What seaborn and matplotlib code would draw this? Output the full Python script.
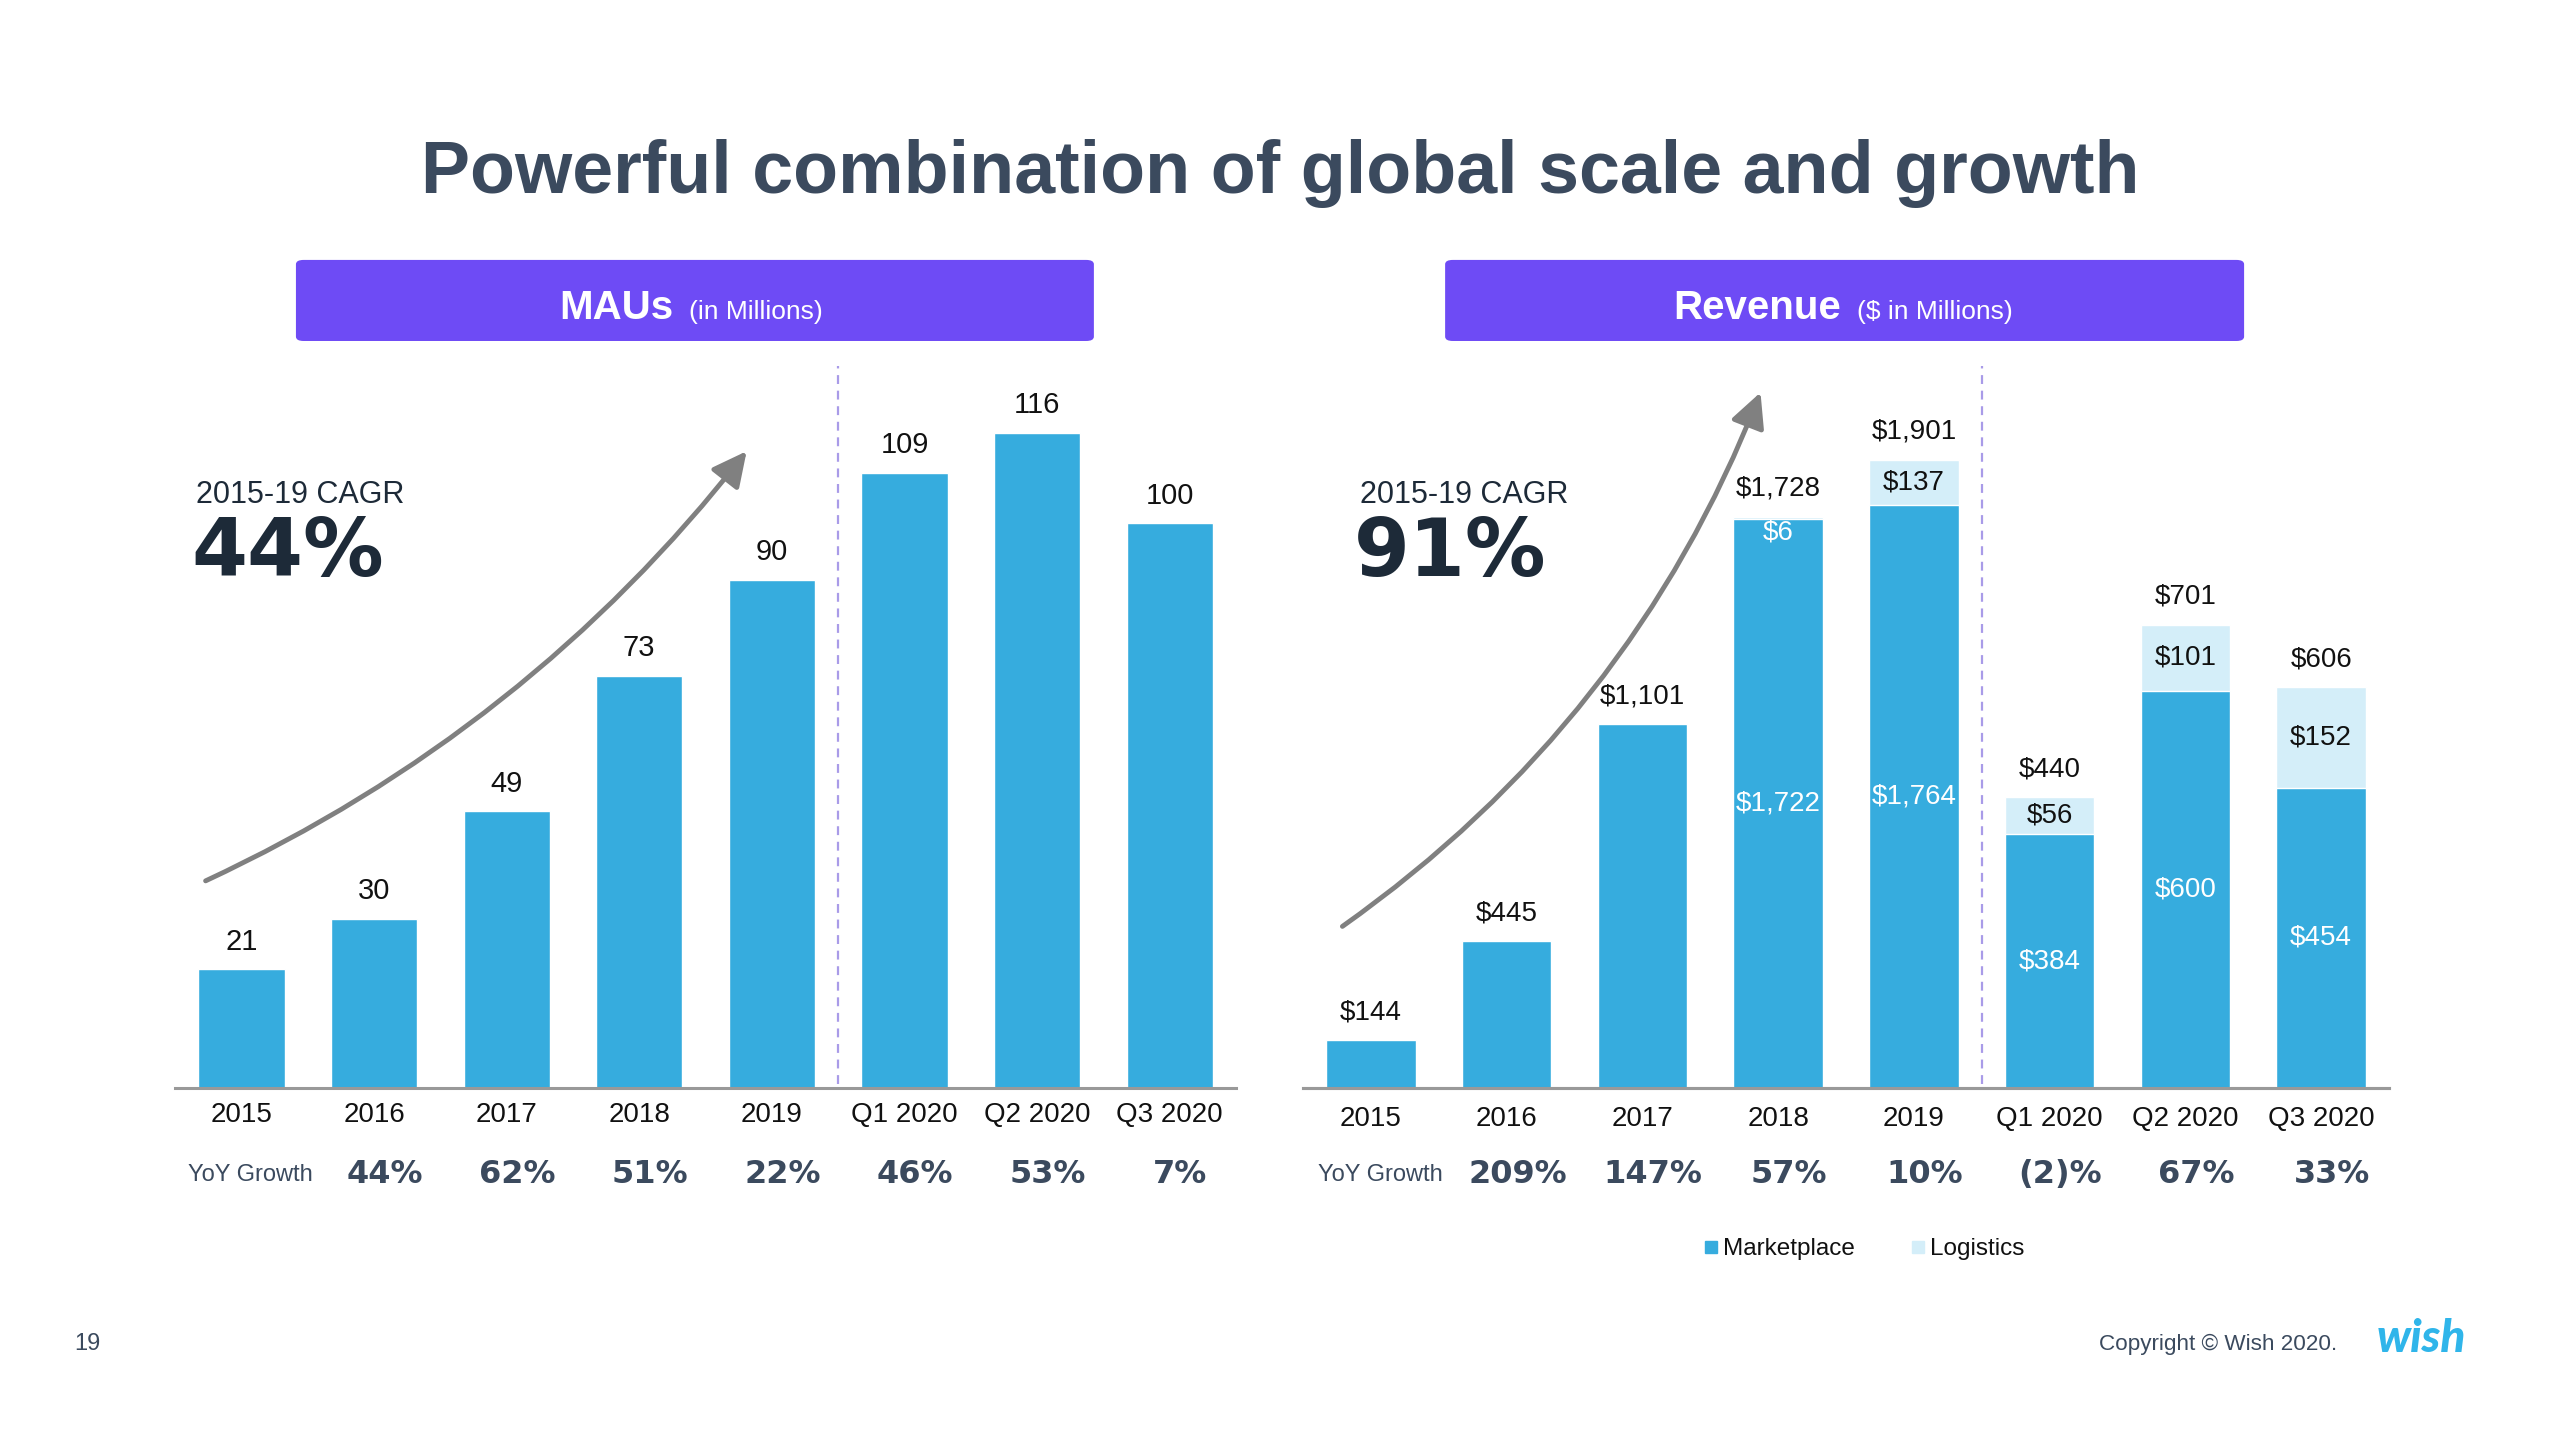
import matplotlib
matplotlib.use('Agg')
import matplotlib.pyplot as plt
import matplotlib.transforms as mtransforms
from matplotlib.patches import FancyBboxPatch
from matplotlib.lines import Line2D
import seaborn as sns
import pandas as pd

#%% data
periods = ['2015', '2016', '2017', '2018', '2019', 'Q1 2020', 'Q2 2020', 'Q3 2020']
period_kind = ['annual'] * 5 + ['quarter'] * 3
mau = [21, 30, 49, 73, 90, 109, 116, 100]
mau_growth = ['44%', '62%', '51%', '22%', '46%', '53%', '7%']
rev_marketplace = [144, 445, 1101, 1722, 1764, 384, 600, 454]
rev_logistics = [0, 0, 0, 6, 137, 56, 101, 152]
rev_growth = ['209%', '147%', '57%', '10%', '(2)%', '67%', '33%']
mau_cagr = '44%'
rev_cagr = '91%'

#%% style
BLUE = '#36ACDE'
LIGHT = '#D4EEF9'
PURPLE = '#6E4BF5'
DASH = '#A99BE8'
SLATE = '#3B4A5E'
DARK = '#1D2A38'
ARROW = '#808080'
NARROW = ['Liberation Sans Narrow', 'Liberation Sans', 'DejaVu Sans']

sns.set_theme(style='white')
plt.rcParams['font.family'] = ['Liberation Sans', 'DejaVu Sans']

fig = plt.figure(figsize=(25.6, 14.4), dpi=100)
fig.patch.set_facecolor('white')

ax_m = fig.add_axes([0.0684, 0.2444, 0.4144, 0.5097])
ax_r = fig.add_axes([0.509, 0.2444, 0.4242, 0.5097])

#%% MAU chart
sns.barplot(x=periods, y=mau, order=periods, color=BLUE, saturation=1,
            width=0.65, errorbar=None, ax=ax_m)
ax_m.set_ylim(0, 130)
for i, v in enumerate(mau):
    ax_m.annotate(f'{v}', (i, v), xytext=(0, 20), textcoords='offset points',
                  ha='center', va='center', fontsize=21, family=NARROW, color='#111111')

#%% Revenue chart (annual and quarterly on separate scales)
rev = pd.DataFrame({'period': periods, 'marketplace': rev_marketplace,
                    'logistics': rev_logistics, 'kind': period_kind})
rev['total'] = rev['marketplace'] + rev['logistics']
ax_q = ax_r.twinx()
for ax, part in [(ax_r, rev[rev.kind == 'annual']), (ax_q, rev[rev.kind == 'quarter'])]:
    sns.barplot(data=part, x='period', y='total', order=periods, color=LIGHT,
                saturation=1, width=0.66, errorbar=None, ax=ax)
    sns.barplot(data=part, x='period', y='marketplace', order=periods, color=BLUE,
                saturation=1, width=0.66, errorbar=None, ax=ax)
ax_r.set_ylim(0, 2220)
ax_q.set_ylim(0, 1110)

for i, row in rev.iterrows():
    ax = ax_r if row['kind'] == 'annual' else ax_q
    ax.annotate(f"${row['total']:,}", (i, row['total']), xytext=(0, 20),
                textcoords='offset points', ha='center', va='center',
                fontsize=20, color='#111111')
    if row['logistics'] >= 50:
        ax.text(i, row['marketplace'] + row['logistics'] / 2, f"${row['logistics']:,}",
                ha='center', va='center', fontsize=20, color='#111111')
    elif row['logistics'] > 0:
        ax.annotate(f"${row['logistics']:,}", (i, row['total']), xytext=(0, -11),
                    textcoords='offset points', ha='center', va='center',
                    fontsize=20, color='white')
    if row['logistics'] > 0:
        ax.text(i, row['marketplace'] / 2, f"${row['marketplace']:,}",
                ha='center', va='center', fontsize=20, color='white')

#%% axes cosmetics
for ax in [ax_m, ax_r, ax_q]:
    ax.set_xlim(-0.5, 7.5)
    ax.set_yticks([])
    ax.set_ylabel('')
    ax.set_xlabel('')
    for side in ['top', 'left', 'right']:
        ax.spines[side].set_visible(False)
    ax.spines['bottom'].set_color('#999999')
    ax.spines['bottom'].set_linewidth(2.2)
    ax.set_facecolor('none')

for ax, pad in [(ax_m, 10), (ax_r, 13)]:
    ax.set_xticks(range(len(periods)))
    ax.set_xticklabels(periods, fontsize=20, family=NARROW, color='#111111')
    ax.tick_params(axis='x', length=0, pad=pad)
    ax.axvline(4.5, ymin=0.005, ymax=0.984, color=DASH, ls=(0, (4, 3)), lw=1.6)

# YoY growth rows
for ax, growth in [(ax_m, mau_growth), (ax_r, rev_growth)]:
    trans = mtransforms.blended_transform_factory(ax.transData, ax.transAxes)
    ax.text(0.07, -0.118, 'YoY Growth', transform=trans, ha='center', va='center',
            fontsize=17, family=NARROW, color=SLATE)
    for i, g in enumerate(growth, start=1):
        ax.text(i + 0.08, -0.118, g, transform=trans, ha='center', va='center',
                fontsize=23, family=['DejaVu Sans'], fontweight='bold', color=SLATE)

# CAGR callouts
for ax, x0, cagr in [(ax_m, 0.02, mau_cagr), (ax_r, 0.052, rev_cagr)]:
    ax.text(x0, 0.808, '2015-19 CAGR', transform=ax.transAxes, ha='left', va='center',
            fontsize=22, family=NARROW, color=DARK)
    ax.text(x0 - 0.005, 0.727, cagr, transform=ax.transAxes, ha='left', va='center',
            fontsize=58, family=['DejaVu Sans'], fontweight='bold', color=DARK)

# growth arrows
ax_m.annotate('', xy=(3.81, 112.8), xytext=(-0.27, 36.7), annotation_clip=False,
              arrowprops=dict(arrowstyle='-|>,head_length=0.7,head_width=0.35',
                              connectionstyle='arc3,rad=0.12', color=ARROW, lw=3.5,
                              mutation_scale=30, shrinkA=0, shrinkB=0))
ax_r.annotate('', xy=(2.87, 2104), xytext=(-0.21, 489), annotation_clip=False,
              arrowprops=dict(arrowstyle='-|>,head_length=0.7,head_width=0.35',
                              connectionstyle='arc3,rad=0.15', color=ARROW, lw=3.5,
                              mutation_scale=30, shrinkA=0, shrinkB=0))

#%% headers and page furniture
fig.text(0.5, 0.866, 'Powerful combination of global scale and growth', ha='center',
         va='baseline', fontsize=53, fontweight='bold', color=SLATE)

for x0, x1 in [(0.1156, 0.4273), (0.5645, 0.8766)]:
    fig.patches.append(FancyBboxPatch((x0, 0.7632), x1 - x0, 0.0563,
                                      boxstyle='round,pad=0,rounding_size=0.003',
                                      transform=fig.transFigure, facecolor=PURPLE,
                                      edgecolor='none'))
fig.text(0.2629, 0.7785, 'MAUs', ha='right', va='baseline', fontsize=29,
         fontweight='bold', color='white')
fig.text(0.2691, 0.7785, '(in Millions)', ha='left', va='baseline', fontsize=19,
         color='white')
fig.text(0.7191, 0.7785, 'Revenue', ha='right', va='baseline', fontsize=29,
         fontweight='bold', color='white')
fig.text(0.7254, 0.7785, '($ in Millions)', ha='left', va='baseline', fontsize=19,
         color='white')

handles = [Line2D([], [], marker='s', ls='', color=BLUE, markersize=9, label='Marketplace'),
           Line2D([], [], marker='s', ls='', color=LIGHT, markersize=9, label='Logistics')]
fig.legend(handles=handles, loc='center', bbox_to_anchor=(0.7277, 0.1326), ncol=2,
           frameon=False, fontsize=17.5, handletextpad=0.1, columnspacing=2.2,
           handlelength=0.8, labelcolor='#111111')

fig.text(0.034, 0.0667, '19', ha='center', va='center', fontsize=17, color=SLATE)
fig.text(0.9129, 0.0667, 'Copyright © Wish 2020.', ha='right', va='center',
         fontsize=16.2, color=SLATE)
fig.text(0.9457, 0.070, 'wish', ha='center', va='center', fontsize=33,
         family=['Lato', 'DejaVu Sans'], fontweight='black', style='italic', color='#2FB5EA')

fig.savefig('out.png', dpi=100, facecolor='white')
